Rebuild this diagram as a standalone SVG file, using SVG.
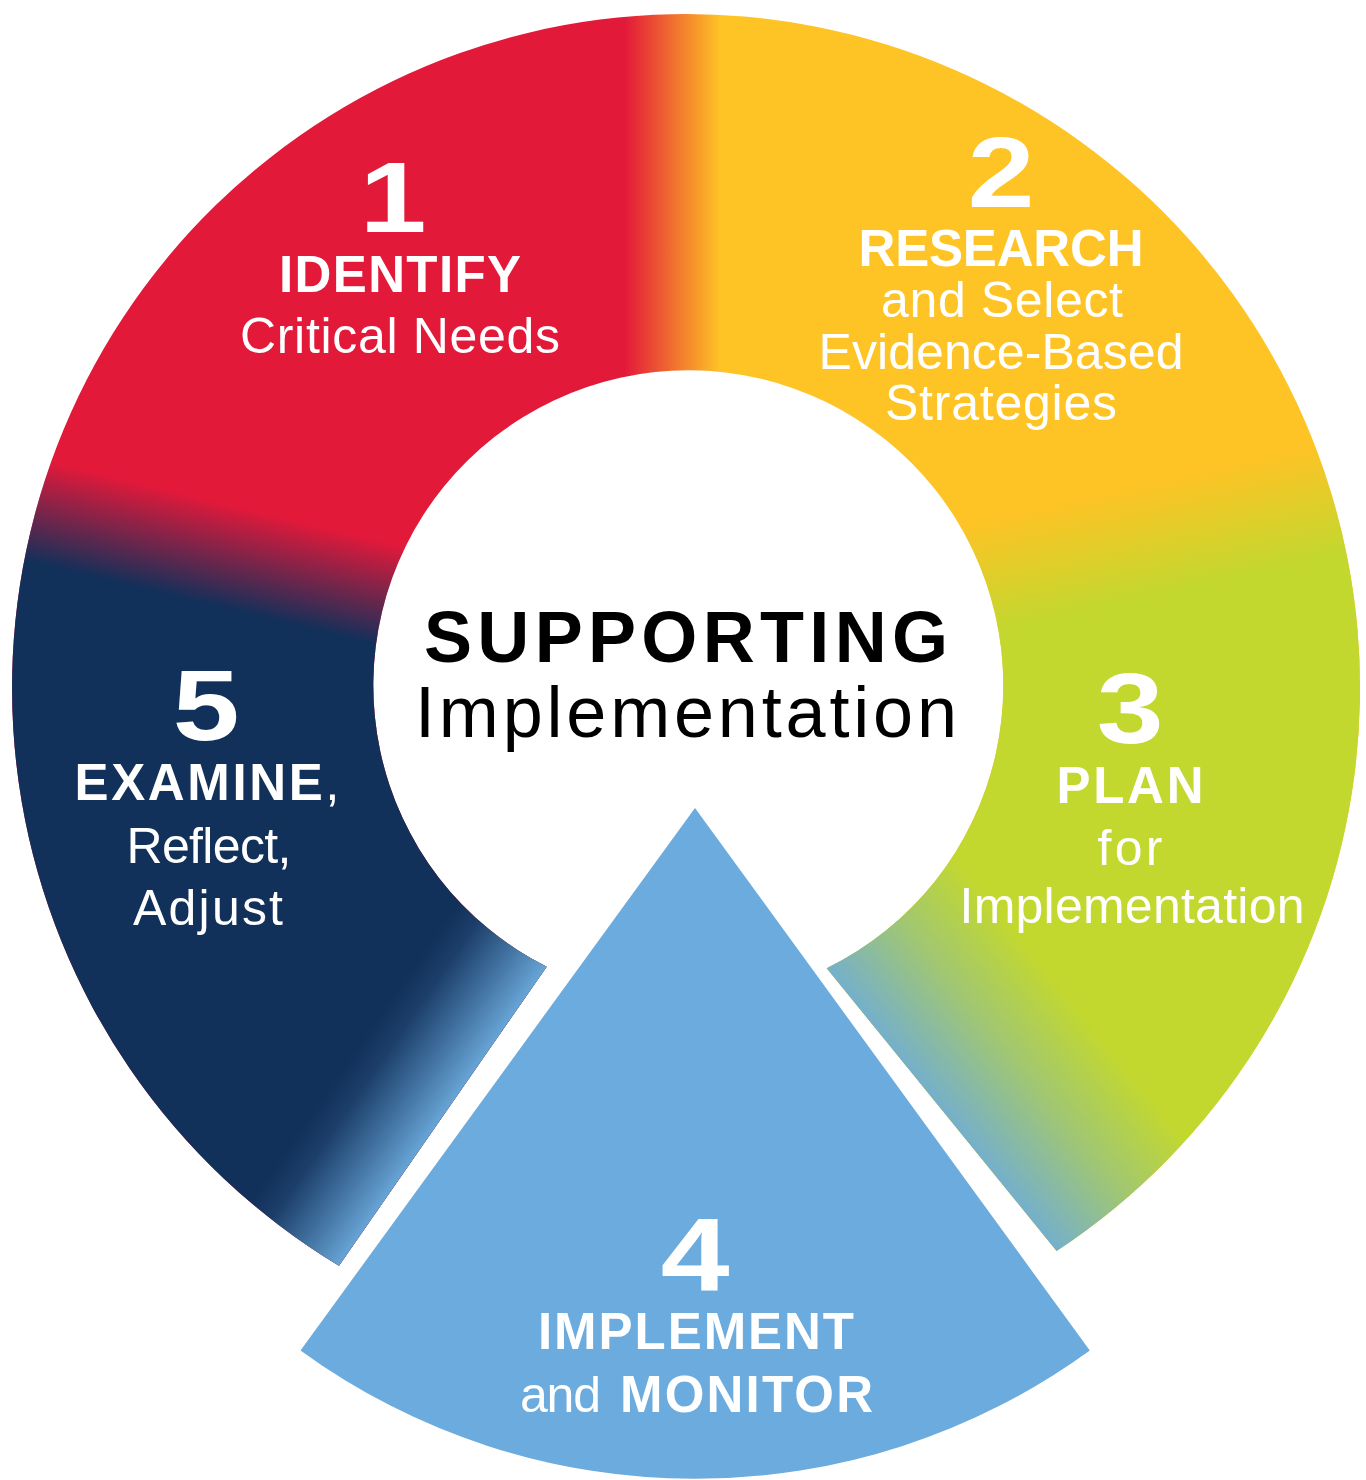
<svg xmlns="http://www.w3.org/2000/svg" width="1366" height="1480" viewBox="0 0 1366 1480">
<defs>
<style>
.num{font-family:"Liberation Sans",Arial,Helvetica,sans-serif;font-weight:700;font-size:100px;fill:#fff;text-anchor:middle}
.hd{font-family:"Liberation Sans",Arial,Helvetica,sans-serif;font-weight:700;font-size:51px;fill:#fff;text-anchor:middle}
.tx{font-family:"Liberation Sans",Arial,Helvetica,sans-serif;font-weight:400;font-size:50px;fill:#fff;text-anchor:middle}
.cb{font-family:"Liberation Sans",Arial,Helvetica,sans-serif;font-weight:700;font-size:72px;fill:#000;text-anchor:middle}
.cr{font-family:"Liberation Sans",Arial,Helvetica,sans-serif;font-weight:400;font-size:72px;fill:#000;text-anchor:middle}
</style>
<clipPath id="ringClip">
<path d="M339 1265.8 A674 674 0 1 1 1056.6 1251 L826.7 968.3 A315 315 0 1 0 546.7 966.7 Z"/>
</clipPath>
<linearGradient id="gRY" gradientUnits="userSpaceOnUse" x1="625" y1="0" x2="720" y2="0">
<stop offset="0" stop-color="#E3193A"/>
<stop offset="1" stop-color="#FEC325"/>
</linearGradient>
<linearGradient id="gG" gradientUnits="userSpaceOnUse" x1="1160" y1="480" x2="1185" y2="590">
<stop offset="0" stop-color="#C2D82F" stop-opacity="0"/>
<stop offset="1" stop-color="#C2D82F" stop-opacity="1"/>
</linearGradient>
<linearGradient id="gN" gradientUnits="userSpaceOnUse" x1="212" y1="500" x2="188" y2="600">
<stop offset="0" stop-color="#11305A" stop-opacity="0"/>
<stop offset="1" stop-color="#11305A" stop-opacity="1"/>
</linearGradient>
<linearGradient id="gBL" gradientUnits="userSpaceOnUse" x1="546.7" y1="966.7" x2="456" y2="904">
<stop offset="0" stop-color="#6CABDD" stop-opacity="0.95"/>
<stop offset="0.35" stop-color="#6CABDD" stop-opacity="0.55"/>
<stop offset="0.75" stop-color="#6CABDD" stop-opacity="0.12"/>
<stop offset="1" stop-color="#6CABDD" stop-opacity="0"/>
</linearGradient>
<linearGradient id="gBR" gradientUnits="userSpaceOnUse" x1="826.7" y1="968.3" x2="958.6" y2="861">
<stop offset="0" stop-color="#6CABDD" stop-opacity="0.9"/>
<stop offset="0.5" stop-color="#6CABDD" stop-opacity="0.4"/>
<stop offset="1" stop-color="#6CABDD" stop-opacity="0"/>
</linearGradient>
</defs>
<rect x="0" y="0" width="1366" height="1480" fill="#fff"/>
<g id="ring" clip-path="url(#ringClip)">
<rect x="0" y="0" width="1366" height="1480" fill="url(#gRY)"/>
<rect x="686" y="0" width="680" height="1480" fill="url(#gG)"/>
<rect x="0" y="0" width="686" height="1480" fill="url(#gN)"/>
<rect x="0" y="820" width="690" height="660" fill="url(#gBL)"/>
<rect x="690" y="820" width="676" height="660" fill="url(#gBR)"/>
</g>
<g id="connectors"></g>
<g id="step1">
<text class="num" transform="translate(393,232) scale(1.2,1)">1</text>
<text class="hd" x="400" y="292" textLength="242" lengthAdjust="spacing">IDENTIFY</text>
<text class="tx" x="400" y="353" textLength="320" lengthAdjust="spacing">Critical Needs</text>
</g>
<g id="step2">
<text class="num" transform="translate(1001,207) scale(1.2,1)">2</text>
<text class="hd" x="1001" y="266" textLength="285" lengthAdjust="spacing">RESEARCH</text>
<text class="tx" x="1002" y="317" textLength="242" lengthAdjust="spacing">and Select</text>
<text class="tx" x="1001" y="369" textLength="365" lengthAdjust="spacing">Evidence-Based</text>
<text class="tx" x="1001" y="420" textLength="232" lengthAdjust="spacing">Strategies</text>
</g>
<g id="step3">
<text class="num" transform="translate(1130,743) scale(1.2,1)">3</text>
<text class="hd" x="1130" y="803" textLength="147" lengthAdjust="spacing">PLAN</text>
<text class="tx" x="1130" y="865" textLength="65" lengthAdjust="spacing">for</text>
<text class="tx" x="1132" y="923" textLength="345" lengthAdjust="spacing">Implementation</text>
</g>
<g id="step4">
<path d="M695 808 L300.5 1350.5 A671 671 0 0 0 1089.8 1350.5 Z" fill="#6CABDD"/>
<text class="num" style="font-size:103px" transform="translate(695,1291) scale(1.2,1)">4</text>
<text class="hd" x="696" y="1349" textLength="316" lengthAdjust="spacing">IMPLEMENT</text>
<text class="tx" y="1412" style="text-anchor:start"><tspan x="520" textLength="81" lengthAdjust="spacing">and</tspan> <tspan x="620" style="font-weight:700;font-size:51px" textLength="253" lengthAdjust="spacing">MONITOR</tspan></text>
</g>
<g id="step5">
<text class="num" transform="translate(206,740) scale(1.2,1)">5</text>
<text class="hd" x="207" y="800" textLength="265" lengthAdjust="spacing">EXAMINE<tspan style="font-weight:400">,</tspan></text>
<text class="tx" x="209" y="863" textLength="165" lengthAdjust="spacing">Reflect,</text>
<text class="tx" x="208" y="925" textLength="150" lengthAdjust="spacing">Adjust</text>
</g>
<g id="center">
<text class="cb" x="686" y="662" textLength="524" lengthAdjust="spacing">SUPPORTING</text>
<text class="cr" x="686" y="737" textLength="542" lengthAdjust="spacing">Implementation</text>
</g>
</svg>
